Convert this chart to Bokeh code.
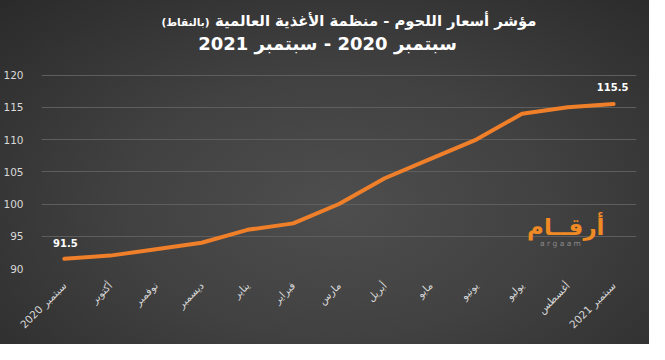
from bokeh.plotting import figure
from bokeh.models import Label, FactorRange, ColumnDataSource, Range1d
from bokeh.core.properties import value
from bokeh.embed import file_html
from bokeh.resources import INLINE
import math

months = ["سبتمبر 2020", "أكتوبر", "نوفمبر", "ديسمبر", "يناير", "فبراير", "مارس",
          "أبريل", "مايو", "يونيو", "يوليو", "أغسطس", "سبتمبر 2021"]
values = [91.5, 92, 93, 94, 96, 97, 100, 104, 107, 110, 114, 115, 115.5]
y_ticks = [90, 95, 100, 105, 110, 115, 120]

title_main = "مؤشر أسعار اللحوم - منظمة الأغذية العالمية"
title_unit = "\u200f(بالنقاط)\u200f"
title_sub = "سبتمبر 2020 - سبتمبر 2021"

FONT = "DejaVu Sans"

# frame reaches the top of the figure so that the titles can sit inside it;
# only ticks 90..120 are drawn, so the extra headroom stays empty
p = figure(width=649, height=344, x_range=FactorRange(*months, range_padding=0),
           y_range=Range1d(90, 131.57), output_backend="svg", toolbar_location=None,
           min_border_left=39, min_border_right=13, min_border_top=0, min_border_bottom=76)
p.styles = {"background-image": "radial-gradient(ellipse at 52% 60%, #4e4e4e 0%, #414141 45%, #2a2a2a 100%)"}
p.background_fill_alpha = 0
p.border_fill_alpha = 0
p.outline_line_color = None

src = ColumnDataSource(dict(x=months, y=values))
p.line("x", "y", source=src, line_color="#f07f2a", line_width=4, line_join="round", line_cap="round")

# end-point labels
lab = ColumnDataSource(dict(x=[months[0], months[-1]], y=[values[0], values[-1]],
                            t=[str(values[0]), str(values[-1])], dx=[1, -1], dy=[-16, -17]))
p.text("x", "y", text="t", source=lab, x_offset="dx", y_offset="dy",
       text_align="center", text_baseline="middle", text_color="white",
       text_font=value(FONT), text_font_style="bold", text_font_size="10px")

p.xgrid.grid_line_color = None
p.ygrid.grid_line_color = "#5e5e5e"
p.ygrid.grid_line_width = 1

p.yaxis.ticker = y_ticks
for ax in (p.xaxis, p.yaxis):
    ax.axis_line_color = None
    ax.major_tick_line_color = None
    ax.minor_tick_line_color = None
    ax.major_label_text_color = "#d9d9d9"
    ax.major_label_text_font = FONT
    ax.major_label_text_font_size = "10.5px"
p.yaxis.major_label_standoff = 12
p.xaxis.major_label_orientation = math.pi / 4
p.xaxis.major_label_standoff = 9

def lbl(x, y, text, align, size, color="white", bold=True):
    p.add_layout(Label(x=x, y=y, x_units="screen", y_units="screen", text=text,
                       text_align=align, text_baseline="middle", text_color=color,
                       text_font=FONT, text_font_style="bold" if bold else "normal",
                       text_font_size=size))

# titles (screen units relative to the frame's bottom-left)
lbl(495, 248, title_main, "right", "14.8px")
lbl(168, 247, title_unit, "right", "10.5px")
lbl(286, 225, title_sub, "center", "18px")

# logo
lbl(563, 42, "أرقــام", "right", "23px", color="#f08a24")
lbl(519, 25, "a r g a a m", "center", "7.5px", color="#8a8a8a", bold=False)

open("out.html", "w").write(file_html(p, INLINE))
